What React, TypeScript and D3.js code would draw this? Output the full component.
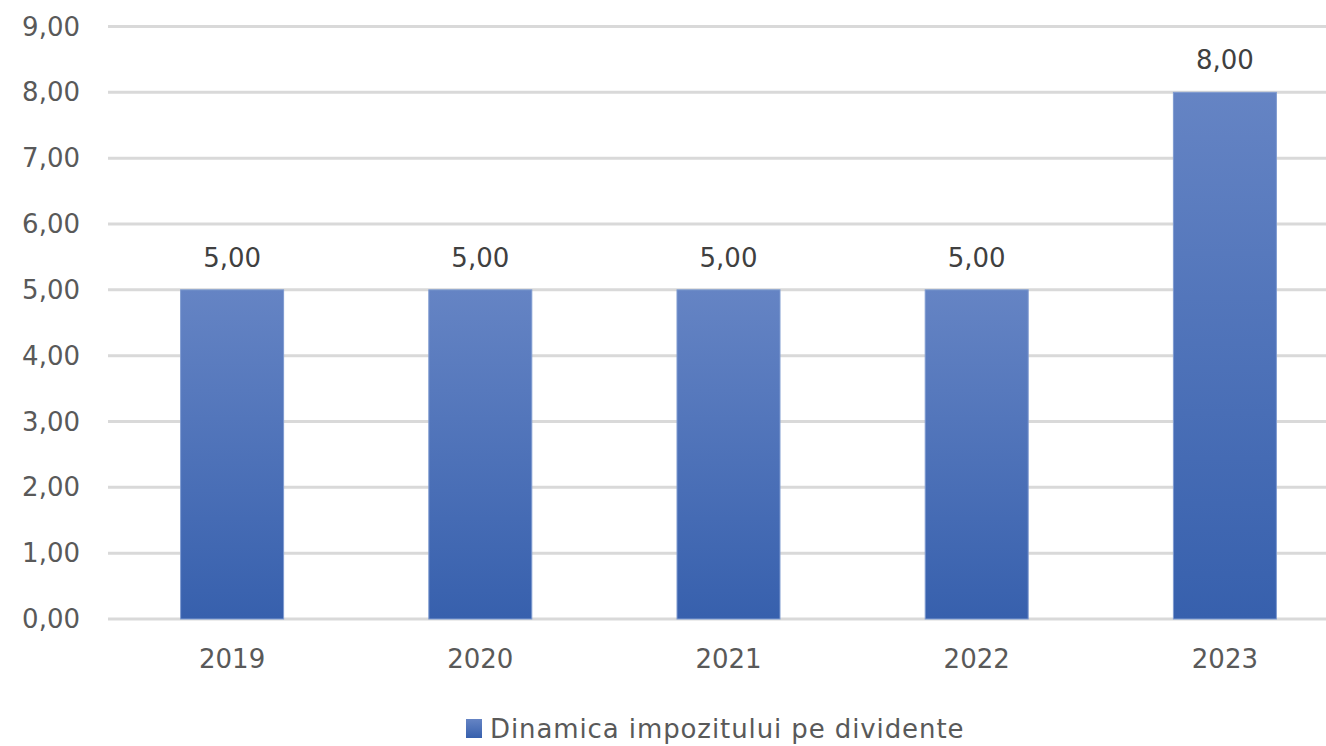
import React, { useEffect, useRef } from "react";
import * as d3 from "d3";

const years = ["2019", "2020", "2021", "2022", "2023"];
const values = [5, 5, 5, 5, 8];
const yTicks = [0, 1, 2, 3, 4, 5, 6, 7, 8, 9];
const seriesName = "Dinamica impozitului pe dividente";

const fmt = (v: number) => v.toFixed(2).replace(".", ",");

export default function App() {
  const svgRef = useRef<SVGSVGElement | null>(null);

  useEffect(() => {
    const width = 1326;
    const height = 746;
    const marginLeft = 108;
    const plotRight = 1349;
    const top = 26.5;
    const bottom = 619;

    const svg = d3.select(svgRef.current);
    svg.selectAll("*").remove();
    svg
      .attr("width", width)
      .attr("height", height)
      .attr("viewBox", [0, 0, width, height])
      .style("display", "block")
      .style("position", "absolute")
      .style("left", "0px")
      .style("top", "0px")
      .style("font-family", "'DejaVu Sans', sans-serif");

    const defs = svg.append("defs");
    const grad = defs
      .append("linearGradient")
      .attr("id", "barGrad")
      .attr("x1", 0)
      .attr("y1", 0)
      .attr("x2", 0)
      .attr("y2", 1);
    grad.append("stop").attr("offset", "0%").attr("stop-color", "#6584c4");
    grad.append("stop").attr("offset", "100%").attr("stop-color", "#3760ad");

    const x = d3.scaleBand().domain(years).range([marginLeft, plotRight]).padding(0);
    const y = d3.scaleLinear().domain([0, 9]).range([bottom, top]);
    const barW = x.step() * 0.415;

    // gridlines
    svg
      .append("g")
      .selectAll("line")
      .data(yTicks)
      .join("line")
      .attr("x1", marginLeft)
      .attr("x2", plotRight)
      .attr("y1", (d) => y(d))
      .attr("y2", (d) => y(d))
      .attr("stroke", "#d9d9d9")
      .attr("stroke-width", 3);

    // y labels
    svg
      .append("g")
      .attr("fill", "#595959")
      .attr("font-size", 26)
      .attr("text-anchor", "end")
      .selectAll("text")
      .data(yTicks)
      .join("text")
      .attr("x", 80)
      .attr("y", (d) => y(d))
      .attr("dy", "0.35em")
      .text((d) => fmt(d));

    // bars
    svg
      .append("g")
      .selectAll("rect")
      .data(values)
      .join("rect")
      .attr("x", (d, i) => x(years[i])! + x.bandwidth() / 2 - barW / 2)
      .attr("y", (d) => y(d))
      .attr("width", barW)
      .attr("height", (d) => y(0) - y(d))
      .attr("fill", "url(#barGrad)")
      .attr("stroke", "#7f9bd0")
      .attr("stroke-width", 1);

    // value labels
    svg
      .append("g")
      .attr("fill", "#404040")
      .attr("font-size", 26)
      .attr("text-anchor", "middle")
      .selectAll("text")
      .data(values)
      .join("text")
      .attr("x", (d, i) => x(years[i])! + x.bandwidth() / 2)
      .attr("y", (d) => y(d) - 32)
      .attr("dy", "0.35em")
      .text((d) => fmt(d));

    // x labels
    svg
      .append("g")
      .attr("fill", "#595959")
      .attr("font-size", 26)
      .attr("text-anchor", "middle")
      .selectAll("text")
      .data(years)
      .join("text")
      .attr("x", (d) => x(d)! + x.bandwidth() / 2)
      .attr("y", 659)
      .attr("dy", "0.35em")
      .text((d) => d);

    // legend
    const legend = svg.append("g");
    legend
      .append("rect")
      .attr("x", 466)
      .attr("y", 719)
      .attr("width", 16)
      .attr("height", 19)
      .attr("fill", "url(#barGrad)");
    legend
      .append("text")
      .attr("x", 490)
      .attr("y", 729)
      .attr("dy", "0.35em")
      .attr("fill", "#595959")
      .attr("font-size", 26)
      .attr("letter-spacing", 0.9)
      .text(seriesName);
  }, []);

  return <svg ref={svgRef}></svg>;
}
